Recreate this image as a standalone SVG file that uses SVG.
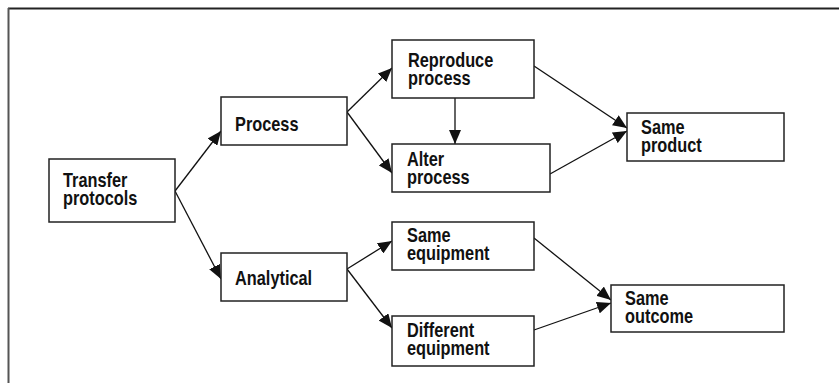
<svg xmlns="http://www.w3.org/2000/svg" width="839" height="383" viewBox="0 0 839 383">
  <style>
    .box { fill: #fff; stroke: #222; stroke-width: 1.5; }
    .lbl { font-family: "Liberation Sans", Arial, sans-serif; font-weight: bold; font-size: 19px; fill: #111; }
    .edge { stroke: #111; stroke-width: 1.3; fill: none; }
    .arr { marker-end: url(#head); }
  </style>
  <defs>
    <marker id="head" markerUnits="userSpaceOnUse" markerWidth="14" markerHeight="12" viewBox="0 0 14 12" refX="14" refY="6" orient="auto">
      <path d="M0,0 L14,6 L0,12 Z" fill="#111"/>
    </marker>
  </defs>

  <rect width="839" height="383" fill="#fff"/>
  <!-- frame -->
  <line x1="8" y1="8.5" x2="839" y2="8.5" stroke="#222" stroke-width="2"/>
  <line x1="8.5" y1="8" x2="8.5" y2="383" stroke="#555" stroke-width="2"/>

  <g id="connectors">
    <line class="edge arr" x1="175" y1="191" x2="221" y2="131"/>
    <line class="edge arr" x1="175" y1="191" x2="221" y2="279"/>
    <line class="edge arr" x1="347" y1="112" x2="392" y2="68"/>
    <line class="edge arr" x1="347" y1="112" x2="392" y2="173"/>
    <line class="edge arr" x1="455" y1="98" x2="455" y2="144"/>
    <line class="edge arr" x1="534" y1="66" x2="627" y2="128"/>
    <line class="edge arr" x1="550" y1="174" x2="627" y2="131"/>
    <line class="edge arr" x1="347" y1="269" x2="392" y2="241"/>
    <line class="edge arr" x1="347" y1="269" x2="392" y2="328"/>
    <line class="edge arr" x1="534" y1="238" x2="611" y2="300"/>
    <line class="edge arr" x1="534" y1="330" x2="611" y2="303"/>
  </g>

  <!-- labels use a narrowed, slightly stretched bold face -->
  <g id="transfer">
    <rect class="box" x="49" y="159" width="126" height="63"/>
    <text class="lbl" transform="translate(63,187) scale(0.86,1.08)"><tspan x="0" y="0">Transfer</tspan><tspan x="0" y="16.2">protocols</tspan></text>
  </g>
  <g id="process">
    <rect class="box" x="221" y="97" width="126" height="48"/>
    <text class="lbl" transform="translate(235,131) scale(0.86,1.08)">Process</text>
  </g>
  <g id="analytical">
    <rect class="box" x="221" y="253" width="126" height="48"/>
    <text class="lbl" transform="translate(235,285) scale(0.86,1.08)">Analytical</text>
  </g>
  <g id="reproduce">
    <rect class="box" x="392" y="40" width="142" height="58"/>
    <text class="lbl" transform="translate(408,67) scale(0.86,1.08)"><tspan x="0" y="0">Reproduce</tspan><tspan x="0" y="16.2">process</tspan></text>
  </g>
  <g id="alter">
    <rect class="box" x="392" y="144" width="158" height="48"/>
    <text class="lbl" transform="translate(407,166) scale(0.86,1.08)"><tspan x="0" y="0">Alter</tspan><tspan x="0" y="16.2">process</tspan></text>
  </g>
  <g id="same-equipment">
    <rect class="box" x="392" y="222" width="142" height="48"/>
    <text class="lbl" transform="translate(407,242) scale(0.86,1.08)"><tspan x="0" y="0">Same</tspan><tspan x="0" y="16.2">equipment</tspan></text>
  </g>
  <g id="different-equipment">
    <rect class="box" x="392" y="316" width="142" height="50"/>
    <text class="lbl" transform="translate(407,337) scale(0.86,1.08)"><tspan x="0" y="0">Different</tspan><tspan x="0" y="16.2">equipment</tspan></text>
  </g>
  <g id="same-product">
    <rect class="box" x="627" y="113" width="157" height="48"/>
    <text class="lbl" transform="translate(641,134) scale(0.86,1.08)"><tspan x="0" y="0">Same</tspan><tspan x="0" y="16.2">product</tspan></text>
  </g>
  <g id="same-outcome">
    <rect class="box" x="611" y="285" width="173" height="47"/>
    <text class="lbl" transform="translate(625,305) scale(0.86,1.08)"><tspan x="0" y="0">Same</tspan><tspan x="0" y="16.2">outcome</tspan></text>
  </g>
</svg>
